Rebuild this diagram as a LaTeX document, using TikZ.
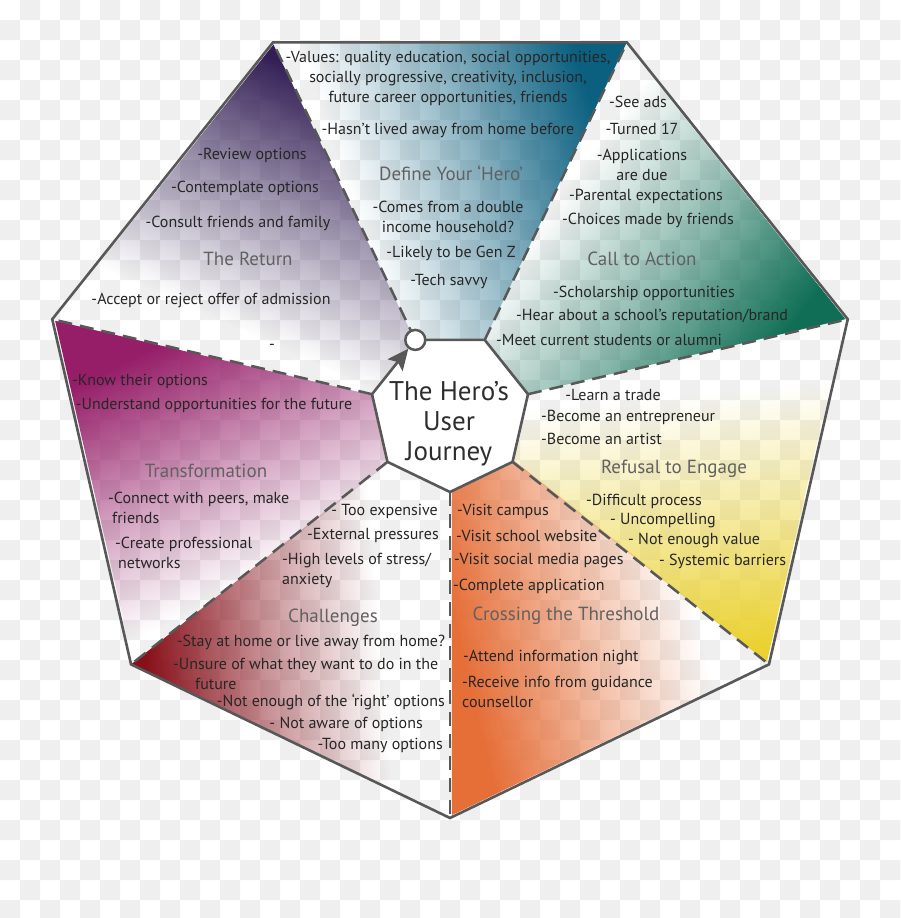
\documentclass[tikz,border=0pt]{standalone}
\usepackage{fontspec}
\setmainfont{PT Sans}
\usetikzlibrary{arrows.meta,calc,fadings}

\definecolor{checker}{RGB}{239,239,239}
\definecolor{rimgray}{RGB}{88,88,88}
\definecolor{herocol}{RGB}{11,96,128}
\definecolor{callcol}{RGB}{15,110,85}
\definecolor{refcol}{RGB}{235,210,50}
\definecolor{crosscol}{RGB}{230,110,55}
\definecolor{chalcol}{RGB}{135,15,25}
\definecolor{trancol}{RGB}{150,30,105}
\definecolor{retcol}{RGB}{50,30,85}

% clear on the left, full colour on the right
\pgfdeclarehorizontalshading{washshade}{100bp}{color(0bp)=(black); color(36bp)=(black); color(54bp)=(black!55); color(73bp)=(white); color(100bp)=(white)}
\pgfdeclarefading{fadeside}{\pgfuseshading{washshade}}

\tikzset{
  item/.style={font=\fontsize{16}{20}\selectfont, text=black!85, inner sep=0pt},
  stage/.style={font=\fontsize{19}{23}\selectfont, text=black!62, inner sep=0pt},
  spoke/.style={draw=rimgray, line width=2.5pt, dash pattern=on 14pt off 8pt},
  rim/.style={draw=rimgray, line width=2.6pt, line join=miter},
  wash/.style={path fading=fadeside, fading angle=#1},
}

\begin{document}
\begin{tikzpicture}[x=1pt, y=-1pt]
  \useasboundingbox (0,0) rectangle (900,918);
  % checker background
  \begin{scope}
    \clip (0,0) rectangle (900,918);
    \fill[checker] \foreach \j in {0,2,...,44} {\foreach \i in {1,3,...,43} {(20*\i,20*\j) rectangle ++(20,20)}};
    \fill[checker] \foreach \j in {1,3,...,45} {\foreach \i in {0,2,...,44} {(20*\i,20*\j) rectangle ++(20,20)}};
  \end{scope}

  % corners of the two heptagons
  \foreach \i in {0,...,6} {
    \coordinate (o\i) at ($(450,410)+({-64.2857+51.4286*\i}:408)$);
    \coordinate (i\i) at ($(450,412)+({-64.2857+51.4286*\i}:80)$);
  }

  % coloured washes
  \fill[callcol, wash=-36]  (i0) -- (o0) -- (o1) -- (i1) -- cycle;
  \fill[refcol, wash=-85]   (i1) -- (o1) -- (o2) -- (i2) -- cycle;
  \fill[crosscol, wash=-165] (i2) -- (o2) -- (o3) -- (i3) -- cycle;
  \fill[chalcol, wash=185]  (i3) -- (o3) -- (o4) -- (i4) -- cycle;
  \fill[trancol, wash=115]  (i4) -- (o4) -- (o5) -- (i5) -- cycle;
  \fill[retcol, wash=65]    (i5) -- (o5) -- (o6) -- (i6) -- cycle;
  \fill[herocol, wash=15]   (i6) -- (o6) -- (o0) -- (i0) -- cycle;

  \foreach \i in {0,...,6} \draw[spoke] (i\i) -- (o\i);
  \draw[rim] (o0) -- (o1) -- (o2) -- (o3) -- (o4) -- (o5) -- (o6) -- cycle;

  % hub
  \fill[white] (i0) -- (i1) -- (i2) -- (i3) -- (i4) -- (i5) -- (i6) -- cycle;
  \draw[rim, line join=round] (i6) -- (i0) -- (i1) -- (i2) -- (i3) -- (i4) -- (i5);
  \node[circle, draw=rimgray, fill=white, line width=2.5pt, minimum size=20pt, inner sep=0pt] (start) at (i6) {};
  \draw[rim, -{Stealth[length=21pt, width=19pt, inset=4pt]}] (i5) -- (start);
  \node[font=\fontsize{27}{30}\selectfont, text=black!82, align=center, inner sep=0pt] (hub) at (449,424) {The Hero’s\\User\\Journey};

  % Define Your 'Hero'
  \node[item, align=center] (hero1) at (448,78) {-Values: quality education, social opportunities,\\socially progressive, creativity, inclusion,\\future career opportunities, friends};
  \node[item] (hero2) at (448,130) {-Hasn’t lived away from home before};
  \node[stage] (heroT) at (451,173) {Define Your ‘Hero’};
  \node[item, align=center] (hero3) at (448,217) {-Comes from a double\\income household?};
  \node[item] (hero4) at (451,253) {-Likely to be Gen Z};
  \node[item] (hero5) at (449,282) {-Tech savvy};

  % Call to Action
  \node[item] (call1) at (638,102) {-See ads};
  \node[item] (call2) at (642,129) {-Turned 17};
  \node[item, align=center] (call3) at (642,165) {-Applications\\are due};
  \node[item] (call4) at (646,196) {-Parental expectations};
  \node[item] (call5) at (648,220) {-Choices made by friends};
  \node[stage] (callT) at (642,259) {Call to Action};
  \node[item] (call6) at (644,293) {-Scholarship opportunities};
  \node[item] (call7) at (652,316) {-Hear about a school’s reputation/brand};
  \node[item] (call8) at (609,340) {-Meet current students or alumni};

  % Refusal to Engage
  \node[item] (ref1) at (613,395) {-Learn a trade};
  \node[item, anchor=west] (ref2) at (541,417) {-Become an entrepreneur};
  \node[item, anchor=west] (ref3) at (541,439) {-Become an artist};
  \node[stage] (refT) at (674,469) {Refusal to Engage};
  \node[item, anchor=west] (ref4) at (586,501) {-Difficult process};
  \node[item, anchor=west] (ref5) at (610,521) {- Uncompelling};
  \node[item, anchor=west] (ref6) at (628,541) {- Not enough value};
  \node[item, anchor=west] (ref7) at (659,561) {- Systemic barriers};

  % Crossing the Threshold
  \node[item, anchor=west] (cross1) at (457,511) {-Visit campus};
  \node[item, anchor=west] (cross2) at (456,536) {-Visit school website};
  \node[item, anchor=west] (cross3) at (454,561) {-Visit social media pages};
  \node[item, anchor=west] (cross4) at (453,586) {-Complete application};
  \node[stage] (crossT) at (566,616) {Crossing the Threshold};
  \node[item, anchor=west] (cross5) at (463,657) {-Attend information night};
  \node[item, anchor=west, align=left] (cross6) at (462,692) {-Receive info from guidance\\counsellor};

  % Challenges
  \node[item, anchor=east] (chal1) at (438,511) {- Too expensive};
  \node[item, anchor=east] (chal2) at (439,535) {-External pressures};
  \node[item, anchor=west, align=left] (chal3) at (282,570) {-High levels of stress/\\anxiety};
  \node[stage] (chalT) at (333,618) {Challenges};
  \node[item] (chal4) at (311,642) {-Stay at home or live away from home?};
  \node[item, anchor=west, align=left] (chal5) at (173,674) {-Unsure of what they want to do in the\\\hspace*{22pt}future};
  \node[item, anchor=east] (chal6) at (445,702) {-Not enough of the ‘right’ options};
  \node[item, anchor=east] (chal7) at (423,724) {- Not aware of options};
  \node[item, anchor=east] (chal8) at (443,745) {-Too many options};

  % Transformation
  \node[item, anchor=west] (tran1) at (72,381) {-Know their options};
  \node[item] (tran2) at (214,405) {-Understand opportunities for the future};
  \node[stage] (tranT) at (206,471) {Transformation};
  \node[item, anchor=west, align=left] (tran3) at (108,508) {-Connect with peers, make\\\hspace*{4pt}friends};
  \node[item, anchor=west, align=left] (tran4) at (115,553) {-Create professional\\\hspace*{3pt}networks};

  % The Return
  \node[item] (ret1) at (252,155) {-Review options};
  \node[item] (ret2) at (245,188) {-Contemplate options};
  \node[item] (ret3) at (238,223) {-Consult friends and family};
  \node[stage] (retT) at (248,259) {The Return};
  \node[item] (ret4) at (211,301) {-Accept or reject offer of admission};
  \node[item] (ret5) at (272,347) {-};
\end{tikzpicture}
\end{document}
